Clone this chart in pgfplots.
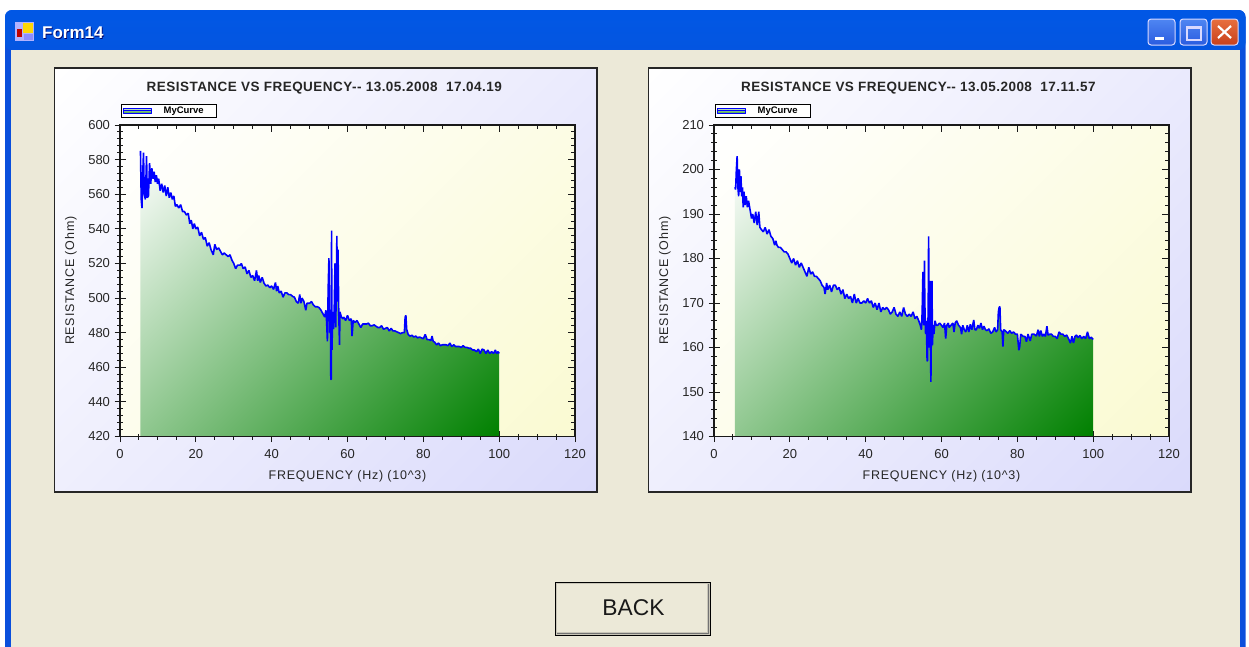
\documentclass[border=0pt]{standalone}
\usepackage{fontspec}
\setmainfont{Liberation Sans}
\usepackage{pgfplots}
\usepackage{pgfplotstable}
\pgfplotsset{compat=1.18}
\definecolor{winbg}{HTML}{ECE9D8}
\definecolor{panelend}{HTML}{DADAFB}
\definecolor{plotend}{HTML}{FAFAD2}
\definecolor{areaend}{HTML}{008000}
\definecolor{frameblue}{HTML}{0A4FDC}
\definecolor{btnTop}{HTML}{4F86F2}\definecolor{btnBot}{HTML}{2A5CE0}
\definecolor{clsTop}{HTML}{E8703F}\definecolor{clsBot}{HTML}{C8401C}
\definecolor{tA}{HTML}{2F7FF0}\definecolor{tB}{HTML}{0058E6}\definecolor{tC}{HTML}{0455E0}\definecolor{tD}{HTML}{0A62F2}\definecolor{tE}{HTML}{0040B8}
\pgfdeclareverticalshading{xptitle}{100bp}{color(0bp)=(tE); color(6bp)=(tD); color(20bp)=(tC); color(88bp)=(tB); color(100bp)=(tA)}
\pgfdeclareverticalshading{areaS}{100bp}{color(0bp)=(areaend); color(14.64bp)=(areaend); color(85.36bp)=(white); color(100bp)=(white)}
\pgfdeclareverticalshading{plotS}{100bp}{color(0bp)=(plotend); color(14.64bp)=(plotend); color(85.36bp)=(white); color(100bp)=(white)}
\pgfdeclareverticalshading{panelS}{100bp}{color(0bp)=(panelend); color(14.64bp)=(panelend); color(85.36bp)=(white); color(100bp)=(white)}
\pgfplotstableread[row sep=\\]{
x y\\
5.4 585\\5.6 557\\5.8 552\\6.0 572\\6.2 584\\6.4 560\\6.7 557\\7.0 582\\7.2 558\\7.5 559\\7.8 578\\8.1 566\\8.4 575\\8.7 569\\9.0 573\\9.3 567\\9.6 571\\9.9 566\\10.2 569\\10.6 562\\11.0 566\\11.4 561\\11.8 565\\12.2 559\\12.6 564\\13.0 558\\13.4 561\\13.8 557\\14.2 559\\14.6 553\\15.0 554\\15.5 552\\16.0 554\\16.5 550\\17.0 550\\17.5 548\\18.0 549\\18.4 543\\18.8 545\\19.2 540\\19.6 543\\20.0 540\\20.5 541\\21.0 536\\21.5 538\\22.0 534\\22.5 535\\23.0 530\\23.5 532\\24.0 528\\24.6 525\\25.0 531\\25.5 528\\26.0 529\\26.5 527\\27.0 525\\27.5 526\\28.0 525\\28.5 524\\29.0 525\\29.5 522\\30.0 520\\30.5 517\\31.0 519\\31.7 519\\32.0 520\\32.5 517\\33.0 518\\33.5 514\\34.0 516\\34.5 512\\35.0 513\\35.5 510\\36.0 516\\36.3 510\\36.6 513\\37.0 509\\37.5 512\\38.0 508.5\\38.5 507\\39.0 507.5\\39.5 506\\40.0 507\\40.5 505\\41.0 509\\41.3 504\\41.6 507\\42.0 503\\42.5 504\\43.0 500.5\\43.5 503\\44.0 503\\44.5 502\\45.0 502\\45.5 501\\46.0 500.5\\46.5 498\\47.0 497\\47.4 502\\47.7 497\\48.0 500\\48.5 498\\49.0 493\\49.3 497\\50.0 497\\50.5 498\\51.0 496\\51.5 495\\52.0 495\\52.5 494.5\\53.0 493\\53.5 491\\54.0 489\\54.3 493\\54.5 486\\54.7 475\\54.9 505\\55.1 523\\55.3 480\\55.5 490\\55.6 453\\55.7 453\\55.8 539\\55.9 470\\56.1 492\\56.3 482\\56.5 494\\56.7 520\\56.9 483\\57.2 536\\57.3 498\\57.5 528\\57.7 490\\57.9 473\\58.0 492\\58.4 489\\58.8 488\\59.0 489\\59.5 487\\60.0 490\\60.5 487\\61.0 488\\61.2 478\\61.5 487\\62.0 486\\62.5 487\\63.0 485\\63.5 483\\64.0 485\\64.5 485\\65.0 485\\65.5 485.5\\66.0 484\\66.5 484\\67.0 484.5\\68.0 483\\68.5 483\\69.0 484\\69.5 482\\70.0 482.5\\70.5 483\\71.0 481\\71.5 482.5\\72.0 481\\72.5 481\\73.0 480.5\\74.0 479.5\\74.5 480\\75.0 480\\75.2 489\\75.4 490\\75.6 482\\76.0 479\\76.5 478\\77.0 478.5\\77.5 477.5\\78.0 478\\78.5 477\\79.0 477.5\\79.5 477\\80.0 476.5\\80.5 479\\81.0 476\\81.5 476\\82.0 475.5\\82.3 478\\82.6 475\\83.0 474.5\\83.5 473\\84.0 474\\84.5 472.5\\85.0 473\\85.5 473\\86.0 473\\86.5 472.5\\87.0 474\\87.5 472\\88.0 473\\88.5 472\\89.0 472\\89.5 472\\90.0 471.5\\90.5 472.5\\91.0 471.5\\91.5 471.5\\92.0 471\\92.5 471\\93.0 470\\93.5 470\\94.0 469\\94.5 470.5\\95.0 468\\95.5 470.5\\96.0 470\\96.5 468\\97.0 470\\97.5 468\\98.0 469\\98.5 468\\99.0 470\\99.3 468\\99.7 469\\100.0 468\\
}\dataA
\pgfplotstableread[row sep=\\]{
x y\\
5.5 196\\5.7 195.5\\5.9 200\\6.1 203\\6.3 196\\6.5 194\\6.7 200\\6.9 195\\7.1 198.5\\7.3 194\\7.5 196\\7.7 191.5\\7.9 195\\8.2 192\\8.5 194\\8.8 191.5\\9.1 193\\9.5 191\\9.9 189\\10.2 190\\10.6 188\\11.0 190.5\\11.4 187.5\\11.8 190.5\\12.1 187\\12.5 186.5\\13.0 186\\13.5 187\\14.0 185.5\\14.5 186.5\\15.0 185\\15.5 184.5\\16.0 183\\16.3 184\\16.6 183\\17.0 182.5\\17.5 182.5\\18.0 182\\18.5 181.5\\19.0 181.5\\19.5 181\\20.0 180\\20.5 179\\21.0 180\\21.5 178.5\\22.0 179.5\\22.5 178\\23.0 179\\23.5 178\\24.0 177\\24.5 176\\25.0 178\\25.5 176.5\\26.0 177\\26.5 176\\27.0 176\\27.5 175.5\\28.0 175\\28.5 174\\29.0 173.5\\29.3 172\\29.7 174.5\\30.0 173\\30.5 174\\31.0 172.5\\31.5 174\\32.0 174\\32.5 173\\33.0 173.5\\33.5 172\\34.0 173\\34.5 171\\35.0 172\\35.5 171\\36.0 171.5\\36.5 170\\37.0 172\\37.5 170\\38.0 171\\38.5 170\\39.0 170\\39.5 170.5\\40.0 170\\40.5 171\\41.0 170\\41.5 170.5\\42.0 169\\42.5 170\\43.0 168.5\\43.5 170\\44.0 168\\44.5 169\\45.0 168.5\\45.5 169\\46.0 168.5\\46.5 167.5\\47.0 168\\47.5 169\\48.0 167.5\\48.5 167\\49.0 168\\49.5 167\\50.0 169\\50.5 167.5\\51.0 167\\51.5 167.5\\52.0 167\\52.5 168\\53.0 166.5\\53.5 167\\54.0 166\\54.4 165\\54.7 164\\54.9 168\\55.1 177\\55.3 165\\55.5 179.5\\55.6 170\\55.8 163\\56.0 166\\56.2 157\\56.3 157\\56.5 170\\56.6 185\\56.7 172\\56.8 160\\57.0 175\\57.1 160\\57.2 152.3\\57.3 162\\57.5 175\\57.6 160.5\\57.8 165\\58.0 163\\58.3 166\\58.6 165\\59.0 165\\59.5 165.5\\60.0 165\\60.4 164.5\\60.8 165.5\\61.1 162\\61.4 165\\61.8 165.5\\62.0 164.5\\62.5 165\\63.0 165.5\\63.3 163.5\\63.6 165.5\\64.0 166\\64.5 165\\65.0 164.5\\65.3 163\\65.6 165\\66.0 164\\66.4 163.5\\66.8 165\\67.2 163.5\\67.6 165.2\\68.0 164\\68.5 166.2\\68.8 164\\69.2 164\\69.6 165\\70.0 164.3\\70.4 165.5\\70.8 164\\71.2 164.8\\71.6 164\\72.0 163.8\\72.5 164.2\\73.0 163.2\\73.5 163.5\\74.0 164.5\\74.4 163.5\\74.8 164\\75.0 168\\75.2 169\\75.4 169.2\\75.6 164\\76.0 163.5\\76.2 160.2\\76.4 164\\76.8 163.8\\77.5 163.2\\78.0 163.8\\78.5 163.2\\79.0 163.5\\79.5 163\\80.0 163\\80.4 159.4\\80.6 160\\80.9 163\\81.5 162.5\\82.0 162.5\\82.4 161.3\\82.8 163\\83.4 161.5\\83.8 163\\84.4 163\\85.0 162.6\\85.5 164\\85.8 162.5\\86.2 163.8\\86.6 162.5\\87.0 163\\87.4 162.5\\87.8 164.8\\88.1 162.8\\88.6 163\\89.0 163\\89.5 162.5\\90.0 162.5\\90.5 162\\91.0 163.5\\91.5 163\\92.0 163\\92.5 162.5\\93.0 162.8\\93.5 162\\94.0 161\\94.4 162.5\\94.8 161\\95.2 162.5\\95.6 162.8\\96.0 162.2\\96.5 162.7\\97.0 162\\97.5 162.5\\98.0 162\\98.5 163.5\\99.0 162\\99.5 162.3\\100.0 161.8\\
}\dataB
\pgfplotsset{
  scope base/.style={
    scale only axis, width=455pt, height=311.5pt,
    xmin=0, xmax=120, xtick={0,20,...,120}, minor x tick num=3,
    minor y tick num=4,
    axis line style={line width=1.1pt,black!90},
    every tick/.style={black!90,line width=1pt},
  },
  main axis/.style={
    scope base,
    tick align=center, xtick pos=bottom, ytick pos=left,
    major tick length=11pt, minor tick length=6pt,
    axis background/.style={shade, shading=plotS, shading angle=45},
    tick label style={font=\fontsize{13}{13}\selectfont, color=black!85},
    /pgf/number format/assume math mode=true,
    xticklabel style={yshift=-4pt},
    yticklabel style={xshift=-1pt},
    title style={font=\bfseries\fontsize{13.5}{13.5}\selectfont\addfontfeatures{LetterSpace=3.5}, at={(axis description cs:0.449,1.125)}, anchor=center, yshift=-8pt, color=black!85},
    xlabel={FREQUENCY (Hz) (10\textasciicircum 3)},
    ylabel={RESISTANCE (Ohm)},
    label style={font=\fontsize{12.5}{13}\selectfont\addfontfeatures{LetterSpace=6}, color=black!85},
    xlabel style={at={(axis description cs:0.5,-0.129)}, anchor=center},
    ylabel style={at={(axis description cs:-0.108,0.5)}, anchor=center},
    legend style={at={(0,1)}, anchor=south west, xshift=1pt, yshift=7pt,
      draw=black, line width=1pt, fill=white, inner xsep=1pt, inner ysep=1pt,
      font=\bfseries\fontsize{9.5}{9.5}\selectfont, row sep=0pt,
      nodes={inner sep=1.5pt, text width=60pt, align=left}},
    legend image code/.code={
      \path[shade, top color=areaend!20!white, bottom color=areaend!80!white, shading angle=0] (0pt,-2.6pt) rectangle (28pt,2.6pt);
      \draw[blue,line width=1pt] (0pt,0pt)--(28pt,0pt);
    },
  },
  over axis/.style={
    scope base,
    tick align=inside, xtick pos=top, ytick pos=right,
    major tick length=7pt, minor tick length=4pt,
    xticklabels={}, yticklabels={},
  },
}
\begin{document}
\begin{tikzpicture}[x=1pt,y=-1pt]
\path[use as bounding box] (0,0) rectangle (1249,646);
\fill[white] (0,0) rectangle (1249,646);
% window frame
\fill[frameblue,rounded corners=7pt] (5,10) rectangle (1245.5,660);
\shade[shading=xptitle,rounded corners=7pt] (5,10) -- (1245.5,10) -- (1245.5,50) -- (5,50) -- cycle;
\fill[winbg] (11,50) rectangle (1240,660);
% title bar content
\fill[white!70!blue] (15,22) rectangle (34,41);
\fill[red!75!black] (17,29) rectangle (22,37);
\fill[yellow!75!orange] (23,23) rectangle (33,33);
\fill[blue!45!white] (24,34) rectangle (33,40);
\node[anchor=west,inner sep=0pt,text=black!60!blue,font=\bfseries\fontsize{17}{17}\selectfont] at (42.7,33.7) {Form14};
\node[anchor=west,inner sep=0pt,text=white,font=\bfseries\fontsize{17}{17}\selectfont] at (42,33) {Form14};
% caption buttons
\foreach \xa/\xb in {1148/1175,1180/1207}{
  \draw[white!85!blue,line width=1pt,rounded corners=3pt,top color=btnTop,bottom color=btnBot] (\xa,19) rectangle (\xb,45);
}
\draw[white!85!blue,line width=1pt,rounded corners=3pt,top color=clsTop,bottom color=clsBot] (1211,19) rectangle (1238,45);
\fill[white] (1155,37) rectangle (1164,40);
\draw[white!85!blue,line width=1.2pt] (1187,27) rectangle (1201,40);
\fill[white!85!blue] (1187,26) rectangle (1201,29);
\draw[white,line width=2.2pt] (1218,26) -- (1231,38) (1231,26) -- (1218,38);
% BACK button
\fill[black!15!winbg] (555,582) rectangle (711,636);
\draw[black,line width=1.2pt] (555.5,582.5) rectangle (710.5,635.5);
\draw[black!55,line width=1.2pt] (557,633.5) -- (708.5,633.5) -- (708.5,584);
\fill[winbg] (557,584) rectangle (707,632);
\node[text=black!90,font=\fontsize{22.8}{23}\selectfont] at (633.5,608) {BACK};
% panels
\foreach \xa in {54,648}{
  \draw[black!85,line width=1.2pt,shade,shading=panelS,shading angle=45] (\xa.5,68) rectangle ({\xa+543},492);
}
\begin{axis}[main axis, at={(120pt,-436.5pt)}, ymin=420, ymax=600, ytick={420,440,...,600},
  title={RESISTANCE VS FREQUENCY-{}- 13.05.2008\ \ 17.04.19}]
\addplot[forget plot, draw=none, shade, shading=areaS, shading angle=45] table[x=x,y=y] {\dataA} -- (axis cs:100,420) -- (axis cs:5.4,420) -- cycle;
\addplot[blue, line width=1.6pt, no marks, line join=bevel] table[x=x,y=y] {\dataA};
\addlegendentry{\hspace*{10pt}MyCurve}
\end{axis}
\begin{axis}[over axis, at={(120pt,-436.5pt)}, ymin=420, ymax=600, ytick={420,440,...,600}]
\end{axis}
\begin{axis}[main axis, at={(714pt,-436.5pt)}, ymin=140, ymax=210, ytick={140,150,...,210},
  title={RESISTANCE VS FREQUENCY-{}- 13.05.2008\ \ 17.11.57}]
\addplot[forget plot, draw=none, shade, shading=areaS, shading angle=45] table[x=x,y=y] {\dataB} -- (axis cs:100,140) -- (axis cs:5.5,140) -- cycle;
\addplot[blue, line width=1.6pt, no marks, line join=bevel] table[x=x,y=y] {\dataB};
\addlegendentry{\hspace*{10pt}MyCurve}
\end{axis}
\begin{axis}[over axis, at={(714pt,-436.5pt)}, ymin=140, ymax=210, ytick={140,150,...,210}]
\end{axis}
\end{tikzpicture}
\end{document}
